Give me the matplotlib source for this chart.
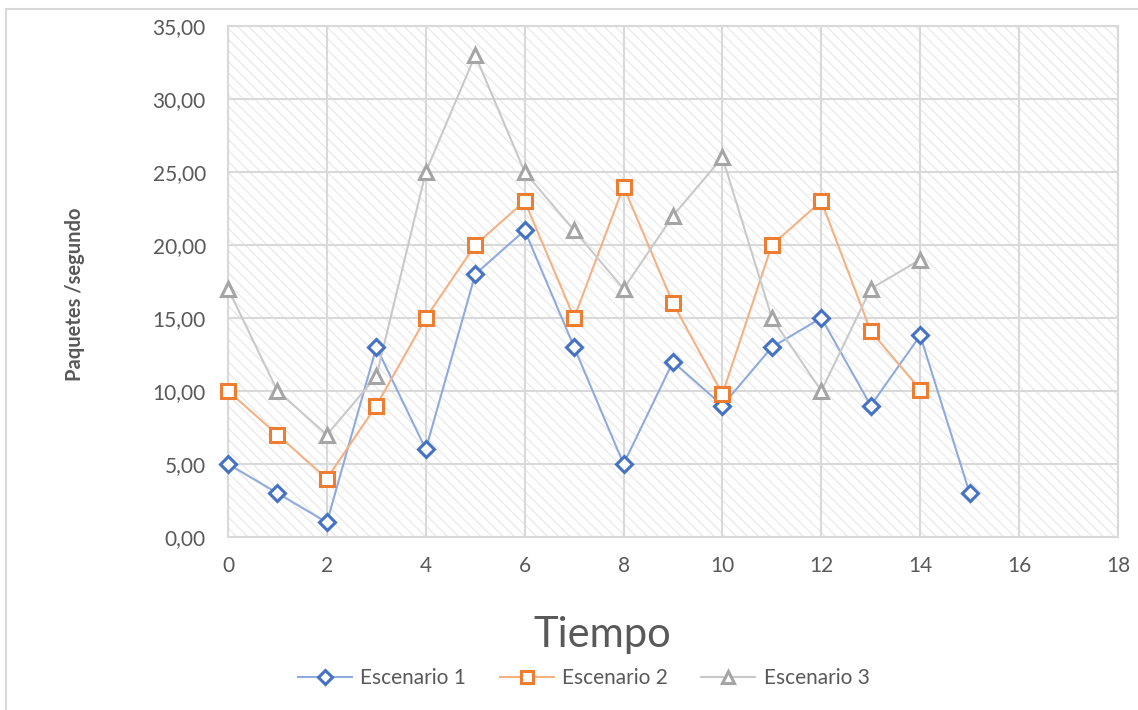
import matplotlib
matplotlib.use("Agg")
import matplotlib.pyplot as plt
from matplotlib.patches import Rectangle
from matplotlib.lines import Line2D
from matplotlib.ticker import FuncFormatter, MultipleLocator

plt.rcParams['font.family'] = ['Lato', 'DejaVu Sans']
plt.rcParams['hatch.linewidth'] = 1.0

# Data
tiempo_1 = [0, 1, 2, 3, 4, 5, 6, 7, 8, 9, 10, 11, 12, 13, 14, 15]
escenario_1 = [5, 3, 1, 13, 6, 18, 21, 13, 5, 12, 9, 13, 15, 9, 13.8, 3]

tiempo_2 = [0, 1, 2, 3, 4, 5, 6, 7, 8, 9, 10, 11, 12, 13, 14]
escenario_2 = [10, 7, 4, 9, 15, 20, 23, 15, 24, 16, 9.8, 20, 23, 14.1, 10.1]

tiempo_3 = [0, 1, 2, 3, 4, 5, 6, 7, 8, 9, 10, 11, 12, 13, 14]
escenario_3 = [17, 10, 7, 11, 25, 33, 25, 21, 17, 22, 26, 15, 10, 17, 19]

labels = ['Escenario 1', 'Escenario 2', 'Escenario 3']

fig = plt.figure(figsize=(11.38, 7.10), dpi=100)
ax = fig.add_axes([0.2004, 0.2437, 0.782, 0.7197])

# outer chart border
fig.patches.append(Rectangle((0.005, -0.05), 1.2, 1.037, transform=fig.transFigure,
                             fill=False, edgecolor='#d9d9d9', linewidth=1.5))

# hatched plot area
ax.add_patch(Rectangle((0, 0), 1, 1, transform=ax.transAxes, facecolor='white',
                       edgecolor='#ebebeb', hatch='\\\\\\', linewidth=0, zorder=0))

grid_col = '#d9d9d9'
ax.grid(True, color=grid_col, linewidth=1.5, zorder=1)
ax.set_axisbelow(True)
for s in ax.spines.values():
    s.set_color(grid_col)
    s.set_linewidth(1.5)

styles = [
    dict(color='#8faadc', marker='D', markersize=8, markeredgecolor='#4472C4'),
    dict(color='#f4b183', marker='s', markersize=10.5, markeredgecolor='#ED7D31'),
    dict(color='#c9c9c9', marker='^', markersize=10, markeredgecolor='#A5A5A5'),
]
series = [(tiempo_1, escenario_1), (tiempo_2, escenario_2), (tiempo_3, escenario_3)]

for (xs, ys), st in zip(series, styles):
    ax.plot(xs, ys, color=st['color'], linewidth=1.5, zorder=3)
for (xs, ys), st in zip(series, styles):
    ax.plot(xs, ys, linestyle='none', marker=st['marker'], markersize=st['markersize'],
            markerfacecolor='white', markeredgecolor=st['markeredgecolor'],
            markeredgewidth=2.2, zorder=4, clip_on=False)

ax.set_xlim(0, 18)
ax.set_ylim(0, 35)
ax.xaxis.set_major_locator(MultipleLocator(2))
ax.yaxis.set_major_locator(MultipleLocator(5))
ax.yaxis.set_major_formatter(FuncFormatter(lambda v, p: f"{v:.2f}".replace('.', ',')))
ax.tick_params(length=0, labelsize=15, labelcolor='#595959')
ax.tick_params(axis='y', pad=16)
ax.tick_params(axis='x', pad=14)

fig.text(0.529, 0.105, 'Tiempo', fontsize=30, color='#595959', ha='center', va='center')
fig.text(0.066, 0.585, 'Paquetes /segundo', rotation=90, fontsize=14.5,
         fontweight='bold', color='#595959', ha='center', va='center')

# legend
handles = [Line2D([], [], color=st['color'], linewidth=1.5, marker=st['marker'],
                  markersize=st['markersize'] * 0.85, markerfacecolor='white',
                  markeredgecolor=st['markeredgecolor'], markeredgewidth=2.2)
           for st in styles]
leg = fig.legend(handles, labels, loc='center', bbox_to_anchor=(0.513, 0.045), ncol=3,
                 frameon=False, fontsize=15, handlelength=2.6, columnspacing=1.6,
                 handletextpad=0.4)
for t in leg.get_texts():
    t.set_color('#595959')

fig.savefig('out.png', dpi=100)
